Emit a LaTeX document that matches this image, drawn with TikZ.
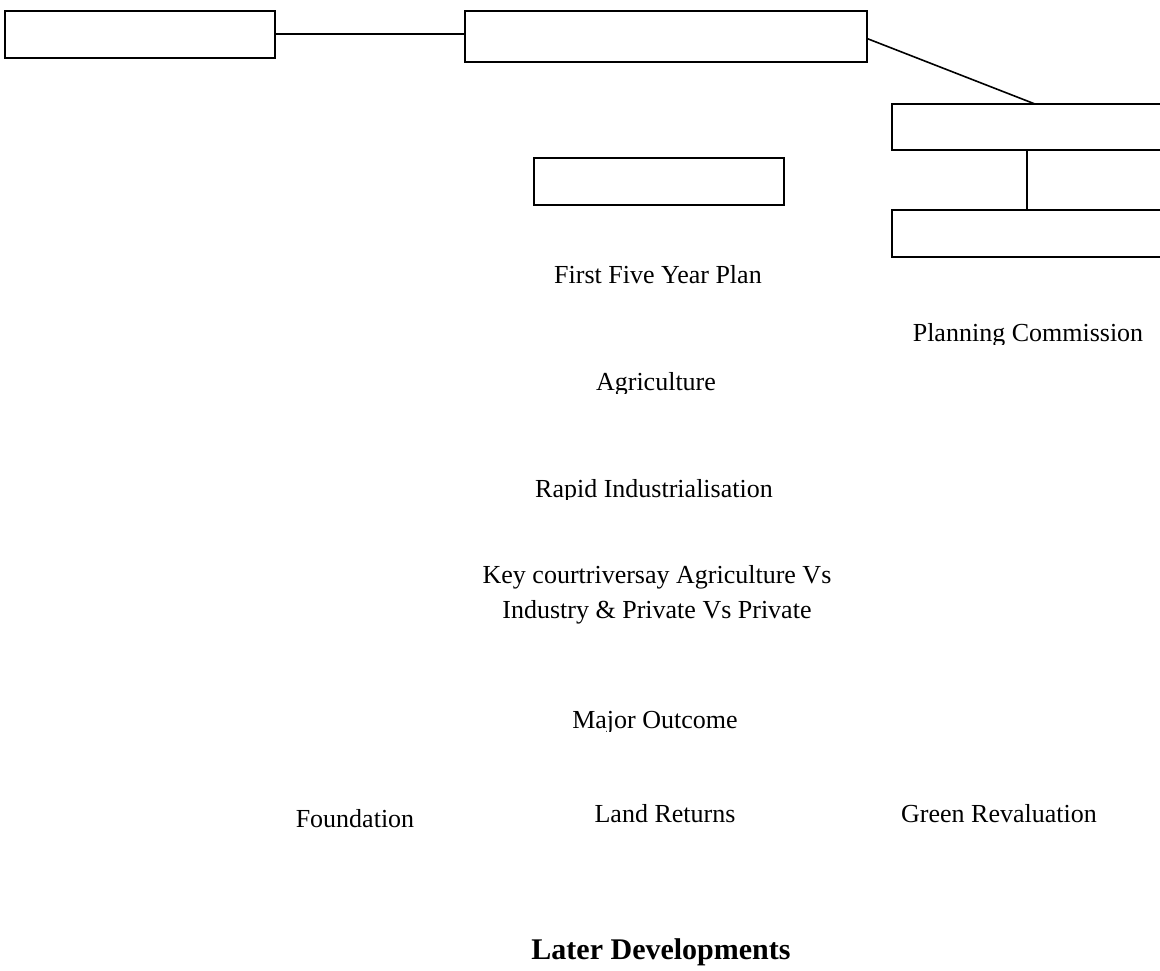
\documentclass[tikz,border=0pt]{standalone}
\usepackage{fontspec}
\setmainfont{Liberation Serif}
\begin{document}
\begin{tikzpicture}[x=1pt, y=-1pt,
  box/.style={draw, line width=1.4pt, inner sep=0pt, outer sep=0pt},
  link/.style={line width=1.6pt},
  lbl/.style={anchor=base, inner sep=0pt, font=\fontsize{26}{34}\selectfont},
  heading/.style={anchor=base, inner sep=0pt, font=\fontsize{30}{36}\selectfont\bfseries}]
\useasboundingbox (0,0) rectangle (1160,970);
\clip (0,0) rectangle (1160,970);

% empty boxes of the chart
\node[box, minimum width=270pt, minimum height=47pt] (b1) at (140,34.5) {};
\node[box, minimum width=402pt, minimum height=51pt] (b2) at (666,36.5) {};
\node[box, minimum width=270pt, minimum height=46pt] (b3) at (1027,127) {};
\node[box, minimum width=270pt, minimum height=47pt] (b4) at (1027,233.5) {};
\node[box, minimum width=250pt, minimum height=47pt] (b5) at (659,181.5) {};

% connectors
\coordinate (b1out) at ([yshift=0.5pt]b1.east);
\draw[link] (b1out) -- (b1out -| b2.west);
\coordinate (b3top) at ([xshift=8pt]b3.north);
\draw[link] ([yshift=-2pt]b2.east) -- (b3top);
\draw[link] (b3.south) -- (b4.north);

% labels (some are cut off just below their baseline)
\node[lbl] (plan) at (658,283) {First Five Year Plan};
\begin{scope}
  \clip (0,0) rectangle (1160,344);
  \node[lbl] (pc) at (1028,341) {Planning Commission};
\end{scope}
\begin{scope}
  \clip (0,0) rectangle (1160,393);
  \node[lbl] (agri) at (656,390) {Agriculture};
\end{scope}
\begin{scope}
  \clip (0,0) rectangle (1160,499);
  \node[lbl] (ind) at (654,497) {Rapid Industrialisation};
\end{scope}
\node[lbl] (key1) at (657,583) {Key courtriversay Agriculture Vs};
\node[lbl] (key2) at (657,618) {Industry \& Private Vs Private};
\begin{scope}
  \clip (0,0) rectangle (1160,731);
  \node[lbl] (major) at (655,728) {Major Outcome};
\end{scope}
\node[lbl] (found) at (355,827) {Foundation};
\node[lbl] (land) at (665,822) {Land Returns};
\node[lbl] (green) at (999,822) {Green Revaluation};
\node[heading] (later) at (661,959) {Later Developments};
\end{tikzpicture}
\end{document}
